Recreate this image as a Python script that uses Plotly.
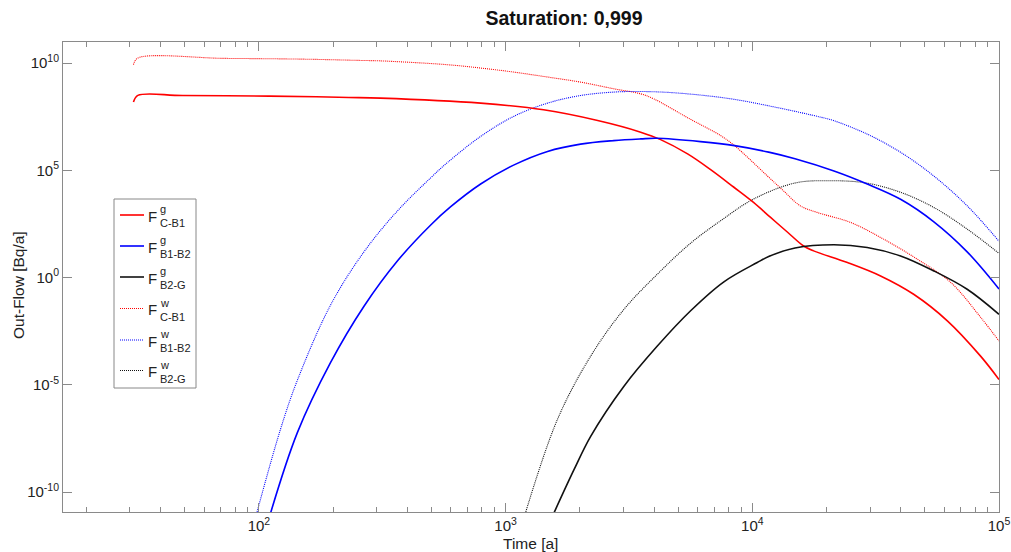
import plotly.graph_objects as go

# ---------------- data ----------------
t_g_cb1 = [31.0, 32.3, 49, 110, 171, 231, 311, 792, 1425, 2361, 3528, 4250, 5466, 6776,
           8395, 10115, 11860, 13900, 16140, 17720, 24300, 33110, 45080, 61900, 84200, 100000]
f_g_cb1 = [1.51e8, 3.09e8, 3.06e8, 2.87e8, 2.66e8, 2.48e8, 2.32e8, 1.35e8, 6.58e7, 2.08e7,
           5.97e6, 2.69e6, 5.78e5, 1.07e5, 1.66e4, 3.16e3, 631, 129, 29.5, 17.5, 5.02, 1.19,
           0.166, 9.38e-3, 2.17e-4, 1.77e-5]

t_g_b1b2 = [110, 143, 195, 267, 364, 497, 599, 792, 1077, 1479, 2013, 2742, 3528, 4100,
            6166, 8470, 11650, 14900, 21430, 29240, 39900, 54450, 74300, 100000]
f_g_b1b2 = [6.31e-12, 5.71e-8, 1.07e-4, 4.71e-2, 5.89, 282, 2.0e3, 2.29e4, 1.74e5, 7.59e5,
            1.66e6, 2.42e6, 2.90e6, 3.10e6, 2.17e6, 1.41e6, 7.0e5, 3.44e5, 9.27e4, 2.29e4,
            4.47e3, 398, 15.8, 0.295]

t_g_b2g = [1538, 1893, 2212, 3018, 4121, 5623, 7670, 10471, 11650, 14900, 21430, 29240,
           39900, 54450, 74300, 100000]
f_g_b2g = [6.31e-12, 1.10e-9, 3.96e-8, 8.61e-6, 6.37e-4, 2.82e-2, 0.631, 5.01, 9.55, 24.0,
           33.9, 25.2, 10.2, 2.03, 0.284, 1.93e-2]

t_w_cb1 = [31.0, 32.3, 73, 137, 195, 258, 311, 582, 792, 1077, 1479, 2013, 2742, 3528, 3981,
           5466, 7436, 8470, 11480, 13370, 15630, 18280, 25000, 34040, 46670, 63830, 84200,
           100000]
f_w_cb1 = [8.34e9, 1.71e10, 1.64e10, 1.54e10, 1.43e10, 1.32e10, 1.26e10, 8.34e9, 5.83e9,
           3.79e9, 2.22e9, 1.29e9, 6.30e8, 3.67e8, 2.15e8, 2.82e7, 4.14e6, 1.41e6, 5.60e4,
           1.11e4, 2.22e3, 1.09e3, 372, 61.7, 7.16, 0.583, 1.41e-2, 1.10e-3]

t_w_b1b2 = [96.8, 122, 143, 195, 267, 364, 497, 582, 792, 1077, 1479, 2013, 2742, 3528, 5000,
            8166, 12420, 18900, 21330, 29300, 39900, 54300, 74500, 100000]
f_w_b1b2 = [6.31e-12, 7.76e-8, 1.58e-5, 5.13e-2, 16.2, 1.26e3, 4.47e4, 2.34e5, 3.80e6, 3.24e7,
            1.35e8, 3.06e8, 4.42e8, 4.71e8, 3.98e8, 2.15e8, 8.7e7, 3.00e7, 2.08e7, 4.79e6,
            6.92e5, 5.50e4, 2.14e3, 49.0]

t_w_b2g = [1187, 1621, 2212, 3018, 4121, 5623, 7436, 10115, 14900, 20350, 28960, 39930,
           54320, 74330, 100000]
f_w_b2g = [6.31e-12, 2.39e-7, 2.17e-4, 3.30e-2, 1.43, 40.1, 442, 4.56e3, 2.55e4, 3.27e4,
           2.55e4, 9.38e3, 1.87e3, 181, 13.4]

series_names = ["g C-B1", "g B1-B2", "g B2-G", "w C-B1", "w B1-B2", "w B2-G"]
legend_sup = ["g", "g", "g", "w", "w", "w"]
legend_sub = ["C-B1", "B1-B2", "B2-G", "C-B1", "B1-B2", "B2-G"]

x_tick_vals = [100, 1000, 10000, 100000]
x_tick_text = ["10<sup>2</sup>", "10<sup>3</sup>", "10<sup>4</sup>", "10<sup>5</sup>"]
y_tick_vals = [1e-10, 1e-5, 1, 1e5, 1e10]
y_tick_text = ["10<sup>-10</sup>", "10<sup>-5</sup>", "10<sup>0</sup>", "10<sup>5</sup>", "10<sup>10</sup>"]

# ---------------- styling ----------------
RED, BLUE, BLACK = "#ff0000", "#0000ff", "#111111"
styles = [
    dict(color=RED, width=1.6, dash="solid"),
    dict(color=BLUE, width=1.6, dash="solid"),
    dict(color=BLACK, width=1.6, dash="solid"),
    dict(color=RED, width=1.1, dash="1px,1px"),
    dict(color=BLUE, width=1.1, dash="1px,1px"),
    dict(color=BLACK, width=1.1, dash="1px,1px"),
]
data = [(t_g_cb1, f_g_cb1), (t_g_b1b2, f_g_b1b2), (t_g_b2g, f_g_b2g),
        (t_w_cb1, f_w_cb1), (t_w_b1b2, f_w_b1b2), (t_w_b2g, f_w_b2g)]

fig = go.Figure()
order = [3, 4, 5, 0, 1, 2]
for i in order:
    tx, fy = data[i]
    fig.add_trace(go.Scatter(x=tx, y=fy, mode="lines", name=series_names[i],
                             line=dict(shape="spline", smoothing=1.0, **styles[i]),
                             showlegend=False, hoverinfo="skip"))

W, H = 1011, 552
L, R, T, B = 63, 12, 42, 40
pw, ph = W - L - R, H - T - B

def px(x):
    return (x - L) / pw

def py(y):
    return (H - B - y) / ph

AX = "#8a8a8a"
TXT = "#222222"
minor_x = [v * m for v in (10, 100, 1000, 10000) for m in range(2, 10)]

fig.update_layout(
    width=W, height=H,
    margin=dict(l=L, r=R, t=T, b=B, autoexpand=False),
    paper_bgcolor="white", plot_bgcolor="white",
    font=dict(family="Liberation Sans, Arial, sans-serif", size=15, color=TXT),
    title=dict(text="<b>Saturation: 0,999</b>", x=564 / W, xref="container", xanchor="center",
               y=1 - 18 / H, yref="container", yanchor="middle",
               font=dict(size=19.5, color="#111111")),
    xaxis=dict(type="log", range=[1.2057, 5.0], showgrid=False, zeroline=False,
               automargin=False,
               showline=True, linecolor=AX, linewidth=1, mirror="ticks",
               ticks="inside", ticklen=9, tickcolor=AX, tickwidth=1,
               tickmode="array", tickvals=x_tick_vals, ticktext=x_tick_text,
               tickfont=dict(size=15),
               minor=dict(ticks="inside", ticklen=5, tickcolor=AX, tickwidth=1,
                          tickmode="array", tickvals=minor_x, showgrid=False)),
    yaxis=dict(type="log", range=[-10.93, 10.98], showgrid=False, zeroline=False,
               automargin=False,
               showline=True, linecolor=AX, linewidth=1, mirror="ticks",
               ticks="inside", ticklen=9, tickcolor=AX, tickwidth=1,
               tickmode="array", tickvals=y_tick_vals, ticktext=y_tick_text,
               tickfont=dict(size=15)),
)

# axis titles
fig.add_annotation(xref="paper", yref="paper", x=px(530), y=py(543), text="Time [a]",
                   showarrow=False, xanchor="center", yanchor="middle",
                   font=dict(size=15.5, color=TXT))
fig.add_annotation(xref="paper", yref="paper", x=px(18), y=py(285), text="Out-Flow [Bq/a]",
                   showarrow=False, xanchor="center", yanchor="middle", textangle=-90,
                   font=dict(size=15.5, color=TXT))

# ---------------- custom legend (stacked super/subscripts) ----------------
fig.add_shape(type="rect", xref="paper", yref="paper",
              x0=px(114), x1=px(196), y0=py(388), y1=py(199),
              line=dict(color="#888888", width=1), fillcolor="white", layer="above")
row_y = [215, 246, 277, 308.5, 340, 370.5]
for k in range(6):
    yy = row_y[k]
    st = styles[k]
    fig.add_shape(type="line", xref="paper", yref="paper",
                  x0=px(120), x1=px(144), y0=py(yy), y1=py(yy),
                  line=dict(color=st["color"], width=st["width"], dash=st["dash"]),
                  layer="above")
    fig.add_annotation(xref="paper", yref="paper", x=px(146), y=py(yy + 1),
                       text="F", showarrow=False, xanchor="left", yanchor="middle",
                       font=dict(size=15, color=TXT))
    fig.add_annotation(xref="paper", yref="paper", x=px(157.5), y=py(yy - 6),
                       text=legend_sup[k], showarrow=False, xanchor="left", yanchor="middle",
                       font=dict(size=11, color=TXT))
    fig.add_annotation(xref="paper", yref="paper", x=px(157.5), y=py(yy + 8),
                       text=legend_sub[k], showarrow=False, xanchor="left", yanchor="middle",
                       font=dict(size=11, color=TXT))

fig.write_html("out.html")
